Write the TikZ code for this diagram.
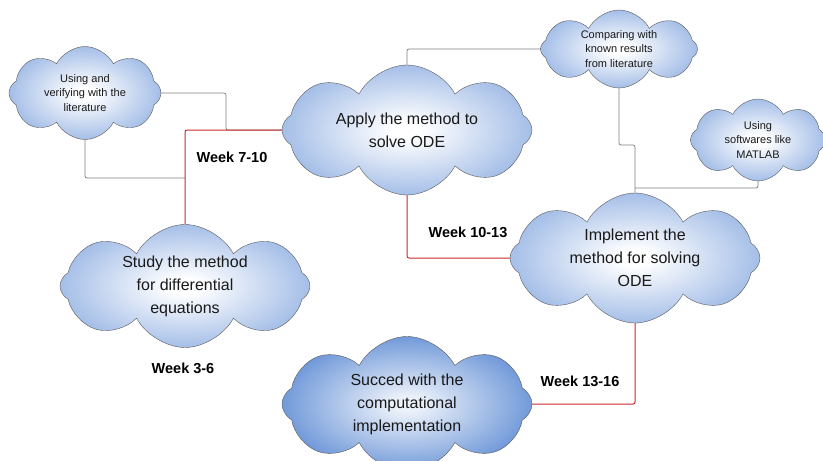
\documentclass[tikz,border=0pt]{standalone}
\usepackage{fontspec}
\setmainfont{Liberation Sans}
\usetikzlibrary{shapes.symbols}

\definecolor{cloudblue}{RGB}{128,164,222}
\definecolor{cloudedge}{RGB}{104,144,212}
\definecolor{clouddeep}{RGB}{86,134,210}
\definecolor{linkred}{RGB}{204,40,40}

\pgfdeclareradialshading{cloudlight}{\pgfpoint{0bp}{0bp}}{color(0bp)=(white); color(3bp)=(white); color(34bp)=(cloudblue); color(50bp)=(cloudedge)}
\pgfdeclareradialshading{clouddark}{\pgfpoint{0bp}{0bp}}{color(0bp)=(white!92!clouddeep); color(3bp)=(white!88!clouddeep); color(30bp)=(clouddeep); color(50bp)=(clouddeep!90!black)}

\begin{document}
\begin{tikzpicture}[x=1pt, y=-1pt,
    idea/.style={cloud, cloud puffs=8, cloud puff arc=125, cloud ignores aspect,
        draw=gray!70!black, thin, shading=cloudlight, align=center, text=black!90,
        inner sep=0pt, font=\fontsize{16}{23}\selectfont},
    smallidea/.style={idea, font=\fontsize{11}{14.5}\selectfont},
    week/.style={font=\fontsize{14.5}{17}\selectfont\bfseries},
    link/.style={draw=gray, line width=0.8pt, rounded corners=2pt},
    timeline/.style={draw=linkred, line width=1pt, rounded corners=2pt}]

    % Page size of the reference
    \useasboundingbox (0,0) rectangle (823,461);

    % Main clouds
    \node[idea, minimum width=250pt, minimum height=130pt] (apply) at (407,130) {Apply the method to\\solve ODE};
    \node[idea, minimum width=250pt, minimum height=123pt] (study) at (185,286) {Study the method\\for differential\\equations};
    \node[idea, minimum width=250pt, minimum height=130pt] (implement) at (635,258) {Implement the\\method for solving\\ODE};
    \node[idea, shading=clouddark, minimum width=250pt, minimum height=135pt] (succeed) at (407,404) {Succed with the\\computational\\implementation};

    % Side clouds
    \node[smallidea, minimum width=152pt, minimum height=93pt] (literature) at (85,93) {Using and\\verifying with the\\literature};
    \node[smallidea, minimum width=157pt, minimum height=78pt] (compare) at (619,49) {Comparing with\\known results\\from literature};
    \node[smallidea, minimum width=135pt, minimum height=82pt] (matlab) at (758,140) {Using\\softwares like\\MATLAB};

    % Junctions
    \coordinate (litjoin) at (226,130);
    \coordinate (studyjoin) at (185,178);
    \coordinate (cmpjoin) at (635,145);
    \coordinate (matjoin) at (635,188);

    % Side connectors
    \draw[link] (literature.east) -| (litjoin) -- (apply.west);
    \draw[link] (literature.south) |- (studyjoin);
    \draw[link] (apply.north) |- (compare.west);
    \draw[link] (compare.south) |- (cmpjoin) -- (implement.north);
    \draw[link] (matlab.south) |- (matjoin);

    % Time line
    \draw[timeline] (study.north) |- (apply.west);
    \draw[timeline] (apply.south) |- (implement.west);
    \draw[timeline] (implement.south) |- (succeed.east);

    % Week labels
    \node[week] (w1) at (183,368) {Week 3-6};
    \node[week] (w2) at (232,157) {Week 7-10};
    \node[week] (w3) at (468,232) {Week 10-13};
    \node[week] (w4) at (580,381) {Week 13-16};

\end{tikzpicture}
\end{document}
